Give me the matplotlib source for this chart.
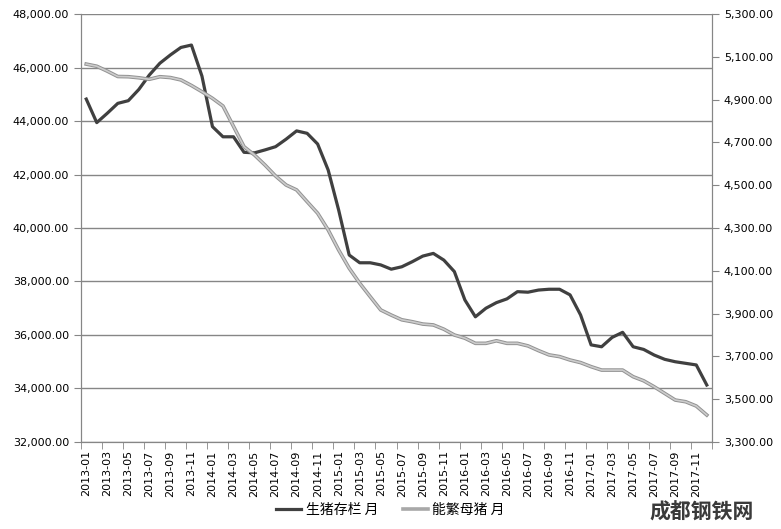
import matplotlib.pyplot as plt
import numpy as np
from matplotlib.ticker import FuncFormatter

plt.rcParams["font.family"] = ["DejaVu Sans", "Noto Sans CJK SC"]

# monthly data, 2013-01 .. 2017-12
months = [f"{y}-{m:02d}" for y in range(2013, 2018) for m in range(1, 13)]

# 生猪存栏 (left axis)
hog_stock = [
    44820, 43940, 44290, 44660, 44760, 45180, 45720, 46160, 46470, 46750, 46840, 45680,
    43790, 43410, 43410, 42830, 42810, 42920, 43040, 43320, 43630, 43540, 43140, 42170,
    40670, 38990, 38700, 38700, 38620, 38460, 38550, 38740, 38950, 39050, 38800, 38370,
    37310, 36680, 37000, 37210, 37350, 37620, 37600, 37680, 37710, 37710, 37500, 36750,
    35630, 35560, 35910, 36100, 35560, 35460, 35250, 35090, 35000, 34940, 34880, 34130,
]

# 能繁母猪 (right axis)
sow_stock = [
    5066, 5056, 5033, 5008, 5007, 5002, 4995, 5007, 5003, 4992, 4966, 4937,
    4906, 4870, 4775, 4680, 4641, 4594, 4543, 4501, 4478, 4423, 4369, 4291,
    4197, 4112, 4042, 3979, 3917, 3893, 3871, 3862, 3851, 3847, 3827, 3800,
    3785, 3761, 3761, 3773, 3761, 3761, 3749, 3727, 3707, 3699, 3683, 3671,
    3652, 3636, 3636, 3636, 3605, 3586, 3558, 3527, 3496, 3488, 3468, 3426,
]

left_ticks = np.arange(32000, 48001, 2000)
right_ticks = np.arange(3300, 5301, 200)

x = np.arange(len(months))

fig = plt.figure(figsize=(7.81, 5.29), dpi=100)
ax = fig.add_axes([0.1037, 0.1645, 0.808, 0.809])
ax2 = ax.twinx()

axis_gray = "#868686"

ax.plot(x, hog_stock, color="#404040", lw=2.3, solid_joinstyle="round", zorder=3)
# light line with a darker rim
ax2.plot(x, sow_stock, color="#929292", lw=2.6, solid_joinstyle="round", zorder=3)
ax2.plot(x, sow_stock, color="#cccccc", lw=1.2, solid_joinstyle="round", zorder=4)

ax.set_xlim(-0.5, len(months) - 0.5)
ax.set_ylim(left_ticks[0], left_ticks[-1])
ax2.set_ylim(right_ticks[0], right_ticks[-1])

ax.set_yticks(left_ticks)
ax2.set_yticks(right_ticks)
fmt = FuncFormatter(lambda v, p: f"{v:,.2f}")
ax.yaxis.set_major_formatter(fmt)
ax2.yaxis.set_major_formatter(fmt)

ax.grid(axis="y", color=axis_gray, lw=1)
ax.set_axisbelow(True)

ax.set_xticks(x[::2])
ax.set_xticklabels(months[::2], rotation=90, fontsize=8)
ax.set_xticks(np.arange(-0.5, len(months), 2), minor=True)
ax.tick_params(axis="x", which="major", length=0, pad=6)
ax.tick_params(axis="x", which="minor", length=5, color=axis_gray)
ax.tick_params(axis="y", length=5, color=axis_gray, labelsize=8)
ax2.tick_params(axis="y", length=5, color=axis_gray, labelsize=8)

for a in (ax, ax2):
    a.spines["top"].set_visible(False)
    for s in ("left", "right", "bottom"):
        a.spines[s].set_color(axis_gray)

h1, = ax.plot([], [], color="#404040", lw=2.3)
h2, = ax.plot([], [], color="#a8a8a8", lw=2.6)
fig.legend([h1, h2], ["生猪存栏 月", "能繁母猪 月"], loc="lower center",
           bbox_to_anchor=(0.5, 0.0), ncol=2, frameon=False,
           handlelength=1.8, handletextpad=0.3, columnspacing=1.8,
           prop={"family": ["Noto Sans CJK SC"], "size": 10})

fig.text(0.965, 0.012, "成都钢铁网", ha="right", va="bottom", fontsize=15,
         fontweight="bold", color="#3a3a3a", family=["Noto Sans CJK SC"])

fig.savefig("out.png", dpi=100)
